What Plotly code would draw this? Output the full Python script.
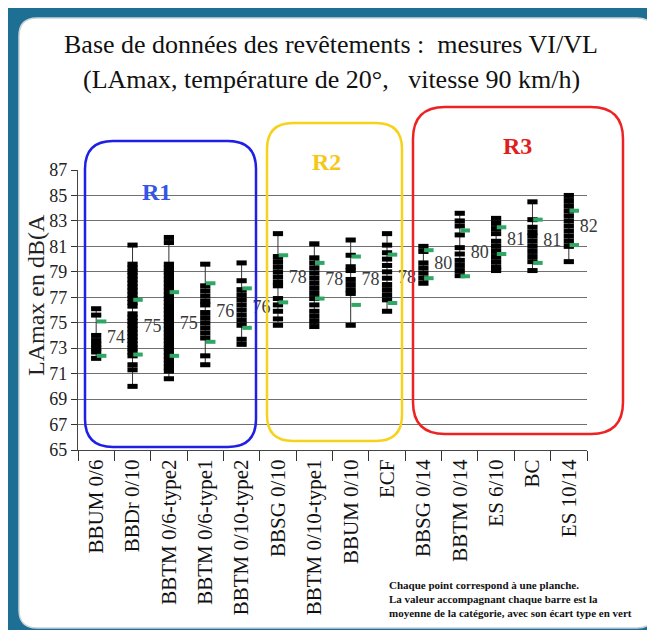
import plotly.graph_objects as go

W, H = 655, 630
L, R, T, B = 70, 76, 162, 188
PW, PH = W - L - R, H - T - B

categories = ["BBUM 0/6", "BBDr 0/10", "BBTM 0/6-type2", "BBTM 0/6-type1",
              "BBTM 0/10-type2", "BBSG 0/10", "BBTM 0/10-type1", "BBUM 0/10",
              "ECF", "BBSG 0/14", "BBTM 0/14", "ES 6/10", "BC", "ES 10/14"]

pts_bbum06 = [76.1, 75.6, 74.0, 73.6, 73.3, 73.0, 72.7, 72.2]
pts_bbdr010 = [81.1, 79.6, 79.3, 79.0, 78.7, 78.4, 78.1, 77.8, 77.5, 77.2, 76.9,
               76.6, 76.3, 75.7, 75.4, 75.1, 74.8, 74.5, 74.2, 73.9, 73.6, 73.3,
               73.0, 72.7, 72.4, 71.7, 71.3, 70.0]
pts_bbtm06_t2 = [81.7, 81.3, 79.6, 79.3, 79.0, 78.7, 78.4, 78.1, 77.8, 77.5, 77.2,
                 76.9, 76.6, 76.3, 76.0, 75.7, 75.4, 75.1, 74.8, 74.5, 74.2, 73.9,
                 73.6, 73.3, 73.0, 72.7, 72.4, 72.1, 71.8, 71.5, 71.2, 70.6]
pts_bbtm06_t1 = [79.6, 77.9, 77.5, 77.1, 76.7, 76.4, 75.8, 75.4, 75.0, 74.6, 74.2,
                 73.8, 72.4, 71.7]
pts_bbtm010_t2 = [79.7, 78.3, 77.6, 77.2, 76.8, 76.4, 76.0, 75.6, 75.2, 74.8, 73.7, 73.3]
pts_bbsg010 = [82.0, 80.2, 79.8, 79.4, 79.0, 78.6, 78.2, 77.9, 76.9, 76.4, 75.9, 75.3, 74.8]
pts_bbtm010_t1 = [81.2, 80.1, 79.7, 79.3, 78.9, 78.5, 78.1, 77.7, 77.3, 76.9, 76.4,
                  75.9, 75.5, 75.1, 74.7]
pts_bbum010 = [81.5, 80.3, 79.4, 79.1, 78.4, 78.0, 77.6, 77.3, 74.8]
pts_ecf = [82.0, 81.1, 80.5, 80.0, 79.5, 79.0, 78.5, 78.0, 77.6, 77.2, 76.8, 75.9]
pts_bbsg014 = [81.0, 80.6, 79.7, 79.3, 78.9, 78.5, 78.1]
pts_bbtm014 = [83.6, 83.0, 82.6, 81.9, 80.9, 80.4, 79.9, 79.5, 79.1, 78.7]
pts_es610 = [83.2, 82.8, 82.4, 82.0, 81.4, 81.0, 80.6, 80.2, 79.8, 79.4, 79.1]
pts_bc = [84.5, 83.1, 82.5, 82.1, 81.8, 81.4, 81.0, 80.6, 80.2, 79.8, 79.1]
pts_es1014 = [85.0, 84.6, 84.2, 83.8, 83.4, 83.0, 82.6, 82.2, 81.8, 81.4, 81.0, 79.8]

points = [pts_bbum06, pts_bbdr010, pts_bbtm06_t2, pts_bbtm06_t1, pts_bbtm010_t2,
          pts_bbsg010, pts_bbtm010_t1, pts_bbum010, pts_ecf, pts_bbsg014,
          pts_bbtm014, pts_es610, pts_bc, pts_es1014]

means = [73.75, 74.65, 74.9, 75.8, 76.15, 78.45, 78.3, 78.3, 78.45, 79.6, 80.45, 81.45, 81.4, 82.45]
stds = [1.35, 2.15, 2.5, 2.3, 1.55, 1.85, 1.4, 1.9, 1.9, 1.1, 1.8, 1.05, 1.7, 1.35]

y_ticks = list(range(65, 88, 2))

SERIF = "Liberation Serif"


def paper(px, py):
    return (px - L) / PW, (H - B - py) / PH


def rounded_path(x0, y0, x1, y1, r):
    pts = [
        ("M", [(x0 + r, y0)]), ("L", [(x1 - r, y0)]), ("Q", [(x1, y0), (x1, y0 + r)]),
        ("L", [(x1, y1 - r)]), ("Q", [(x1, y1), (x1 - r, y1)]),
        ("L", [(x0 + r, y1)]), ("Q", [(x0, y1), (x0, y1 - r)]),
        ("L", [(x0, y0 + r)]), ("Q", [(x0, y0), (x0 + r, y0)]),
    ]
    s = ""
    for cmd, cs in pts:
        s += cmd + " ".join("%.5f,%.5f" % paper(a, b) for a, b in cs) + " "
    return s + "Z"


fig = go.Figure()

# min-max whiskers
vx, vy = [], []
for c, p in zip(categories, points):
    vx += [c, c, None]
    vy += [min(p), max(p), None]
fig.add_trace(go.Scatter(x=vx, y=vy, mode="lines", line=dict(color="#333333", width=1),
                         hoverinfo="skip", showlegend=False, connectgaps=False))

# individual measurements
px_, py_ = [], []
for c, p in zip(categories, points):
    px_ += [c] * len(p)
    py_ += p
fig.add_trace(go.Scatter(x=px_, y=py_, mode="markers",
                         marker=dict(symbol="line-ew", size=7.3,
                                     line=dict(width=5, color="#000000")),
                         showlegend=False))

# mean +/- std (green)
gx, gy = [], []
for i, (m, s) in enumerate(zip(means, stds)):
    gx += [i + 0.15, i + 0.15]
    gy += [m + s, m - s]
fig.add_trace(go.Scatter(x=gx, y=gy, xaxis="x2", mode="markers",
                         marker=dict(symbol="line-ew", size=6.8,
                                     line=dict(width=4, color="#2fa866")),
                         showlegend=False))

# mean labels
fig.add_trace(go.Scatter(x=[i + 0.3 for i in range(len(means))], y=means, xaxis="x2",
                         mode="text", text=["%.0f" % m for m in means],
                         textposition="middle right", cliponaxis=False,
                         textfont=dict(family=SERIF, size=18, color="#3a3a3a"),
                         showlegend=False))

shapes = [
    dict(type="path", path=rounded_path(11, 10, 647, 620, 18), xref="paper", yref="paper",
         fillcolor="white", line=dict(color="#c9d3d8", width=1.5), layer="below"),
    dict(type="path", path=rounded_path(77, 133, 248, 439, 28), xref="paper", yref="paper",
         line=dict(color="#1f1fe6", width=2.5), layer="above"),
    dict(type="path", path=rounded_path(259, 115, 394, 433, 26), xref="paper", yref="paper",
         line=dict(color="#f7d21a", width=2.5), layer="above"),
    dict(type="path", path=rounded_path(405, 99, 615, 426, 32), xref="paper", yref="paper",
         line=dict(color="#ee2222", width=2.5), layer="above"),
]

annotations = []


def ann(text, x, y, size, color="#111111", xanchor="center", angle=0, bold=False):
    ax, ay = paper(x, y)
    annotations.append(dict(text=text, x=ax, y=ay,
                            xref="paper", yref="paper", showarrow=False,
                            xanchor=xanchor, yanchor="middle", textangle=angle,
                            borderpad=0,
                            font=dict(family=SERIF, size=size, color=color,
                                      weight="bold" if bold else "normal")))


ann("Base de données des revêtements :&nbsp; mesures VI/VL", 323, 36, 26)
ann("(LAmax, température de 20°,&nbsp;&nbsp; vitesse 90 km/h)", 323, 71, 26)
ann("R1", 148, 184, 24, color="#3355e8", bold=True)
ann("R2", 318, 154, 24, color="#f5c816", bold=True)
ann("R3", 509, 138, 24, color="#e01e1e", bold=True)
ann("LAmax en dB(A", 28, 287, 24, color="#222222", angle=-90)
ann("Chaque point correspond à une planche.", 380, 577, 11, xanchor="left", bold=True)
ann("La valeur accompagnant chaque barre est la", 380, 591, 11, xanchor="left", bold=True)
ann("moyenne de la catégorie, avec son écart type en vert", 380, 605, 11, xanchor="left", bold=True)

fig.update_layout(
    width=W, height=H,
    margin=dict(l=L, r=R, t=T, b=B, pad=0),
    paper_bgcolor="#1d6f93",
    plot_bgcolor="rgba(0,0,0,0)",
    showlegend=False,
    shapes=shapes,
    annotations=annotations,
    xaxis=dict(type="category", categoryorder="array", categoryarray=categories,
               range=[-0.5, len(categories) - 0.5], tickson="boundaries",
               ticks="outside", ticklen=10, tickcolor="#333333", tickwidth=1.2,
               tickangle=-90, showgrid=False, showline=True, linecolor="#444444",
               linewidth=1.3, zeroline=False,
               tickfont=dict(family=SERIF, size=21, color="#111111")),
    xaxis2=dict(overlaying="x", range=[-0.5, len(categories) - 0.5], visible=False),
    yaxis=dict(range=[65, 87], tickvals=y_ticks, ticktext=[str(v) for v in y_ticks],
               ticks="outside", ticklen=6, tickcolor="#333333", tickwidth=1.2,
               showgrid=True, gridcolor="#707070", gridwidth=1.3,
               showline=True, linecolor="#444444", linewidth=1.3, zeroline=False,
               tickfont=dict(family=SERIF, size=18, color="#222222")),
)

fig.write_html("out.html")
